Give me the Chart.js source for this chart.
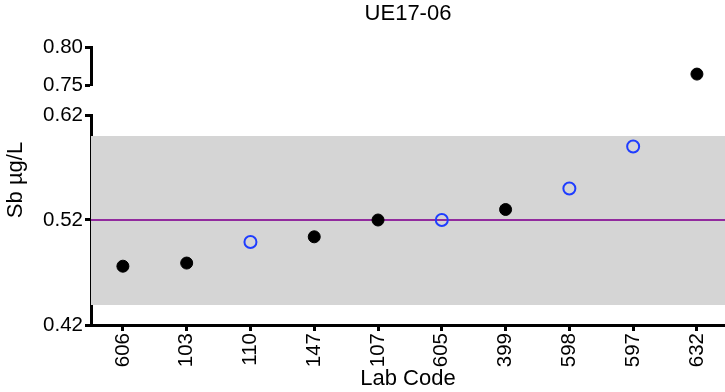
<!DOCTYPE html>
<html>
<head>
<meta charset="utf-8">
<title>UE17-06</title>
<script src="https://cdn.jsdelivr.net/npm/chart.js@4.4.1/dist/chart.umd.min.js"></script>
<style>
  html, body { margin: 0; padding: 0; background: #fff; }
  #wrap { position: relative; width: 725px; height: 392px; }
  #wrap canvas { position: absolute; left: 0; top: 0; }
  #upperChart { pointer-events: none; }
</style>
</head>
<body>
<div id="wrap">
  <canvas id="lowerChart" width="725" height="392"></canvas>
  <canvas id="upperChart" width="725" height="100"></canvas>
</div>
<script>
// Lab results, Sb (µg/L)
const labCodes = ['606', '103', '110', '147', '107', '605', '399', '598', '597', '632'];
const results = [0.476, 0.479, 0.499, 0.504, 0.520, 0.520, 0.530, 0.550, 0.590, 0.765];
const hollow = [false, false, true, false, false, true, false, true, true, false];

const assignedValue = 0.52;
const bandLow = 0.439;
const bandHigh = 0.60;

const lowerTicks = [0.42, 0.52, 0.62];
const upperTicks = [0.75, 0.80];

const xMin = -0.5;
const xMax = 9.44;
const fontFamily = "'Liberation Sans', Arial, Helvetica, sans-serif";

// split points between the two axis segments
function points(inUpper, wantHollow) {
    const out = [];
    results.forEach((v, i) => {
        const upper = v > lowerTicks[lowerTicks.length - 1];
        if (upper === inUpper && hollow[i] === wantHollow) out.push({ x: i, y: v });
    });
    return out;
}

function solidSet(data) {
    return {
        data: data,
        pointRadius: 6,
        pointBackgroundColor: '#000',
        pointBorderColor: '#000',
        pointBorderWidth: 1,
        showLine: false
    };
}

function hollowSet(data) {
    return {
        data: data,
        pointRadius: 6,
        pointBackgroundColor: 'rgba(0,0,0,0)',
        pointBorderColor: '#1f3dff',
        pointBorderWidth: 2,
        showLine: false
    };
}

const tickFont = { family: fontFamily, size: 20.5 };
const titleFont = { family: fontFamily, size: 22 };

// y title spans both axis segments, so it is drawn here instead of by one scale
const yTitlePlugin = {
    id: 'yTitle',
    afterDraw(chart) {
        const ctx = chart.ctx;
        ctx.save();
        ctx.translate(16, 180);
        ctx.rotate(-Math.PI / 2);
        ctx.font = titleFont.size + 'px ' + fontFamily;
        ctx.fillStyle = '#000';
        ctx.textAlign = 'center';
        ctx.textBaseline = 'middle';
        ctx.fillText('Sb µg/L', 0, 0);
        ctx.restore();
    }
};

function yAxis(min, max, ticks) {
    return {
        type: 'linear',
        min: min,
        max: max,
        afterBuildTicks: axis => { axis.ticks = ticks.map(v => ({ value: v })); },
        afterFit: axis => { axis.width = 91; },
        ticks: {
            color: '#000',
            font: tickFont,
            padding: 2,
            callback: v => v.toFixed(2)
        },
        grid: { drawOnChartArea: false, drawTicks: true, tickLength: 6, tickWidth: 3, tickColor: '#000' },
        border: { display: true, color: '#000', width: 3 }
    };
}

function createLowerChart() {
    const ctx = document.getElementById('lowerChart').getContext('2d');

    new Chart(ctx, {
        type: 'scatter',
        data: {
            datasets: [
                solidSet(points(false, false)),
                hollowSet(points(false, true)),
                {
                    data: [{ x: xMin, y: assignedValue }, { x: xMax, y: assignedValue }],
                    showLine: true,
                    borderColor: '#922b9e',
                    borderWidth: 2,
                    pointRadius: 0
                },
                {
                    data: [{ x: xMin, y: bandHigh }, { x: xMax, y: bandHigh }],
                    showLine: true,
                    borderWidth: 0,
                    pointRadius: 0,
                    fill: '+1',
                    backgroundColor: '#d5d5d5'
                },
                {
                    data: [{ x: xMin, y: bandLow }, { x: xMax, y: bandLow }],
                    showLine: true,
                    borderWidth: 0,
                    pointRadius: 0,
                    fill: false
                }
            ]
        },
        options: {
            responsive: false,
            animation: false,
            devicePixelRatio: 1,
            layout: { autoPadding: false, padding: { top: 115, right: 0, bottom: 0, left: 0 } },
            plugins: { legend: { display: false }, tooltip: { enabled: false } },
            scales: {
                x: {
                    type: 'linear',
                    min: xMin,
                    max: xMax,
                    afterBuildTicks: axis => { axis.ticks = labCodes.map((c, i) => ({ value: i })); },
                    afterFit: axis => { axis.height = 67; axis.paddingRight = 0; axis.paddingLeft = 0; },
                    ticks: {
                        color: '#000',
                        font: tickFont,
                        minRotation: 90,
                        maxRotation: 90,
                        padding: 2,
                        autoSkip: false,
                        callback: v => labCodes[v]
                    },
                    grid: { drawOnChartArea: false, drawTicks: true, tickLength: 6, tickWidth: 3, tickColor: '#000' },
                    border: { display: true, color: '#000', width: 3 },
                    title: { display: true, text: 'Lab Code', color: '#000', font: titleFont, padding: { top: 0, bottom: 0 } }
                },
                y: yAxis(0.42, 0.62, lowerTicks)
            }
        },
        plugins: [yTitlePlugin]
    });
}

function createUpperChart() {
    const ctx = document.getElementById('upperChart').getContext('2d');

    new Chart(ctx, {
        type: 'scatter',
        data: {
            datasets: [
                solidSet(points(true, false)),
                hollowSet(points(true, true))
            ]
        },
        options: {
            responsive: false,
            animation: false,
            devicePixelRatio: 1,
            layout: { autoPadding: false, padding: { top: 0, right: 0, bottom: 10, left: 0 } },
            plugins: { legend: { display: false }, tooltip: { enabled: false } },
            scales: {
                x: {
                    type: 'linear',
                    position: 'top',
                    min: xMin,
                    max: xMax,
                    afterFit: axis => { axis.height = 47; axis.paddingRight = 0; axis.paddingLeft = 0; },
                    ticks: { display: false },
                    grid: { display: false },
                    border: { display: false },
                    title: { display: true, text: 'UE17-06', color: '#000', font: titleFont, padding: { top: 1, bottom: 0 } }
                },
                y: yAxis(0.75, 0.80, upperTicks)
            }
        }
    });
}

document.addEventListener('DOMContentLoaded', function() {
    createLowerChart();
    createUpperChart();
});
</script>
</body>
</html>
